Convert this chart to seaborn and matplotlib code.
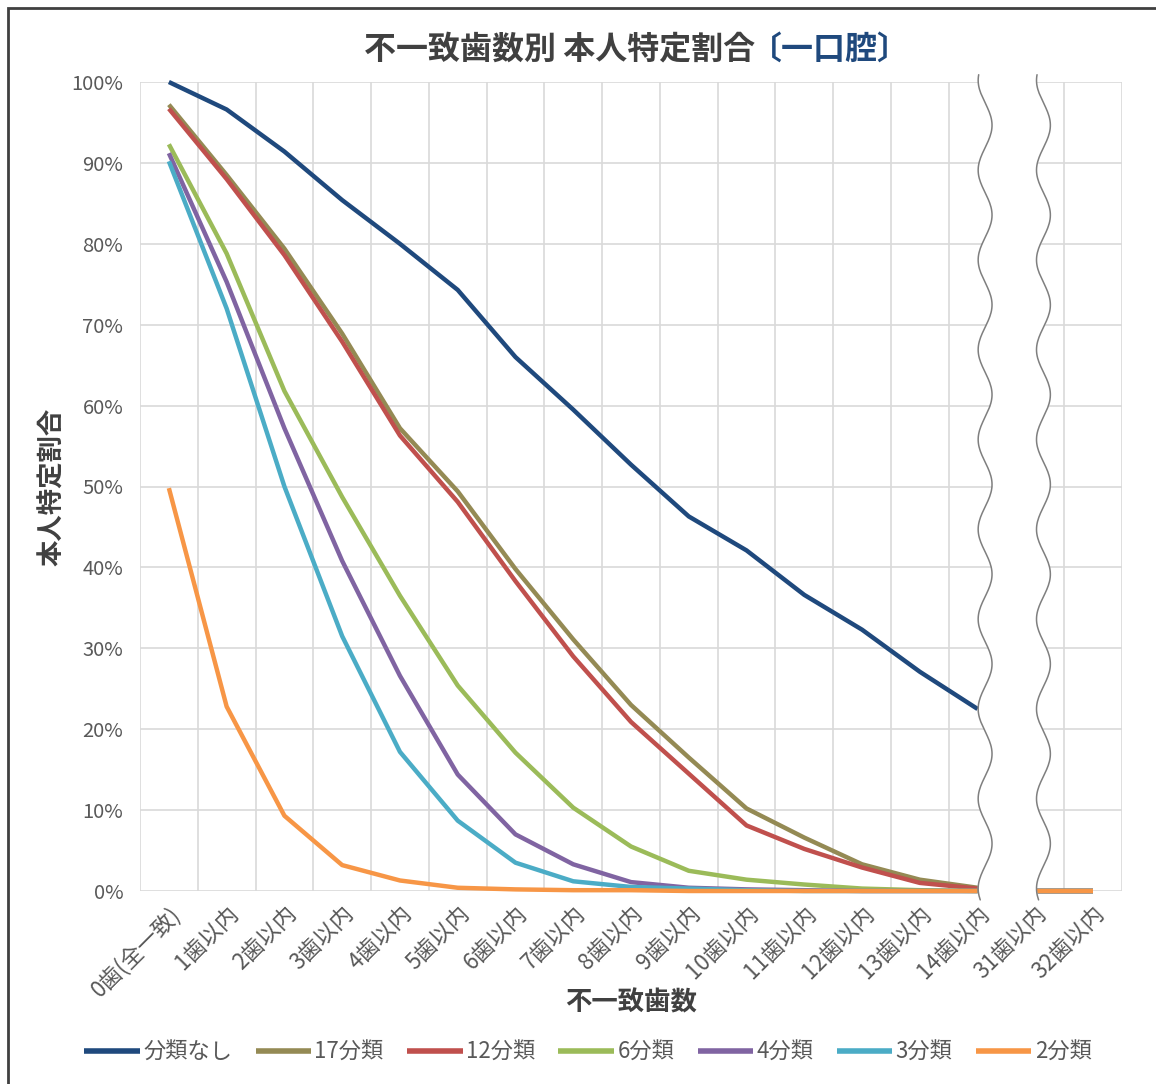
import numpy as np
import pandas as pd
import matplotlib
matplotlib.use("Agg")
import matplotlib.pyplot as plt
from matplotlib.patches import Rectangle
import seaborn as sns

# カテゴリ (不一致歯数)
categories = ["0歯(全一致)", "1歯以内", "2歯以内", "3歯以内", "4歯以内", "5歯以内",
              "6歯以内", "7歯以内", "8歯以内", "9歯以内", "10歯以内", "11歯以内",
              "12歯以内", "13歯以内", "14歯以内", "31歯以内", "32歯以内"]

series_names = ["分類なし", "17分類", "12分類", "6分類", "4分類", "3分類", "2分類"]
series_colors = ["#1F497D", "#948A54", "#C0504D", "#9BBB59", "#8064A2", "#4BACC6", "#F79646"]

# 本人特定割合 (%)
none_vals = [100.0, 96.6, 91.4, 85.4, 80.0, 74.3, 66.0, 59.5, 52.7, 46.3, 42.1, 36.6, 32.3, 27.1, 22.5, 0.0, 0.0]
c17_vals = [97.2, 88.5, 79.4, 68.9, 57.2, 49.4, 39.8, 31.1, 23.0, 16.5, 10.2, 6.6, 3.3, 1.4, 0.4, 0.0, 0.0]
c12_vals = [96.7, 88.0, 78.6, 67.9, 56.3, 48.1, 38.3, 29.0, 20.9, 14.5, 8.1, 5.2, 2.9, 1.0, 0.3, 0.0, 0.0]
c6_vals = [92.3, 78.8, 61.8, 48.7, 36.5, 25.4, 17.1, 10.3, 5.5, 2.5, 1.4, 0.8, 0.3, 0.1, 0.0, 0.0, 0.0]
c4_vals = [91.2, 75.3, 57.2, 40.8, 26.6, 14.4, 7.0, 3.3, 1.1, 0.4, 0.2, 0.1, 0.0, 0.0, 0.0, 0.0, 0.0]
c3_vals = [90.2, 72.0, 50.0, 31.5, 17.2, 8.7, 3.5, 1.2, 0.5, 0.3, 0.1, 0.0, 0.0, 0.0, 0.0, 0.0, 0.0]
c2_vals = [49.8, 22.8, 9.3, 3.2, 1.3, 0.4, 0.2, 0.1, 0.1, 0.0, 0.0, 0.0, 0.0, 0.0, 0.0, 0.0, 0.0]

all_vals = [none_vals, c17_vals, c12_vals, c6_vals, c4_vals, c3_vals, c2_vals]

rows = []
for name, vals in zip(series_names, all_vals):
    for i, v in enumerate(vals):
        rows.append({"pos": i, "割合": v, "系列": name})
df = pd.DataFrame(rows)

sns.set_theme(style="white")
plt.rcParams["font.family"] = ["Noto Sans CJK JP", "DejaVu Sans"]

text_col = "#404040"
tick_col = "#595959"
grid_col = "#D9D9D9"

fig = plt.figure(figsize=(11.56, 10.84), dpi=100)
ax = fig.add_axes([140 / 1156, 1 - 891 / 1084, (1122 - 140) / 1156, (891 - 82) / 1084])

# 14歯以内 と 31歯以内 の間は省略 (線をつながない)
sns.lineplot(data=df[df["pos"] <= 14], x="pos", y="割合", hue="系列", hue_order=series_names,
             palette=series_colors, linewidth=3.2, sort=False, ax=ax)
sns.lineplot(data=df[df["pos"] >= 15], x="pos", y="割合", hue="系列", hue_order=series_names,
             palette=series_colors, linewidth=3.2, sort=False, ax=ax, legend=False)
for ln in ax.lines:
    ln.set_clip_on(False)
    ln.set_solid_capstyle("butt")

ax.set_xlim(-0.5, len(categories) - 0.5)
ax.set_ylim(0, 100)
ax.set_yticks(np.arange(0, 101, 10))
ax.set_yticklabels([f"{v}%" for v in range(0, 101, 10)], color=tick_col, fontsize=14.5)
ax.set_xticks(range(len(categories)))
ax.set_xticklabels(categories, rotation=45, ha="right", rotation_mode="anchor",
                   color=tick_col, fontsize=16)
ax.set_xticks(np.arange(-0.5, len(categories), 1), minor=True)
ax.tick_params(axis="both", which="both", length=0)
ax.tick_params(axis="x", pad=8)
ax.tick_params(axis="y", pad=12)
ax.grid(which="minor", axis="x", color=grid_col, lw=1.2)
ax.grid(which="major", axis="y", color=grid_col, lw=1.2)
ax.grid(which="major", axis="x", visible=False)
for sp in ax.spines.values():
    sp.set_visible(False)

ax.set_xlabel("不一致歯数", fontsize=19, fontweight="bold", color=text_col, labelpad=-8)
ax.set_ylabel("本人特定割合", fontsize=19, fontweight="bold", color=text_col, labelpad=4)

# 省略記号 (波線)
yy = np.linspace(-1.1, 100.9, 400)
wave = 0.12 * np.sin(2 * np.pi * yy / 11.1 + 4.54)
left_edge = 14.13 + wave
right_edge = 15.14 + wave
ax.fill_betweenx(yy, left_edge, right_edge, color="white", zorder=5, clip_on=False, lw=0)
ax.plot(left_edge, yy, color="#7F7F7F", lw=1.1, zorder=6, clip_on=False)
ax.plot(right_edge, yy, color="#7F7F7F", lw=1.1, zorder=6, clip_on=False)

# 凡例
handles, labels = ax.get_legend_handles_labels()
ax.get_legend().remove()
leg = fig.legend(handles, labels, loc="center", bbox_to_anchor=(588 / 1156, 1 - 1052 / 1084),
                 ncol=7, frameon=False, fontsize=16, handlelength=2.5, handletextpad=0.15,
                 columnspacing=1.05)
for t in leg.get_texts():
    t.set_color(tick_col)
for h in leg.get_lines():
    h.set_linewidth(4)

# タイトル
fig.text(755 / 1156, 1 - 50 / 1084, "不一致歯数別 本人特定割合", ha="right", va="center",
         fontsize=23, fontweight="bold", color=text_col)
fig.text(750 / 1156, 1 - 50 / 1084, "〔一口腔〕", ha="left", va="center",
         fontsize=23, fontweight="bold", color="#1F497D")

# 外枠
fig.patches.append(Rectangle((8 / 1156, -0.1), 1.2, 1 - 8 / 1084 + 0.1, transform=fig.transFigure,
                             fill=False, edgecolor="#404040", lw=2, zorder=10))

fig.savefig("out.png", dpi=100, facecolor="white")
